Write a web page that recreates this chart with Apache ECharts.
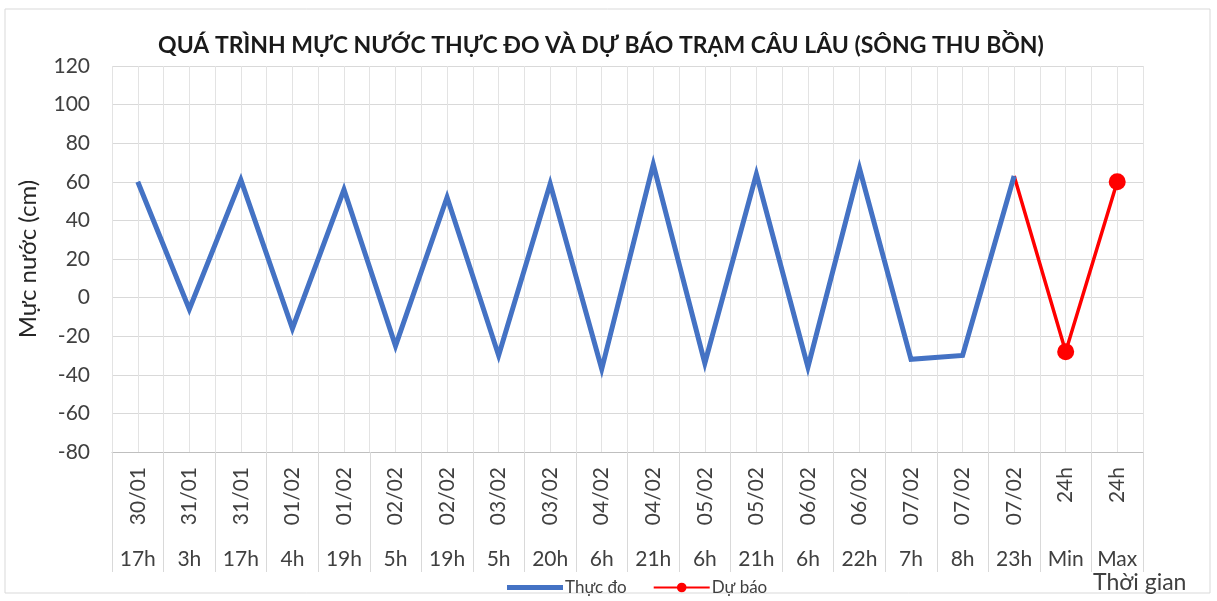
<!DOCTYPE html>
<html>
<head>
<meta charset="utf-8">
<script src="https://cdn.jsdelivr.net/npm/echarts@6/dist/echarts.min.js"></script>
<style>html,body{margin:0;padding:0;background:#fff;}#c{width:1217px;height:601px;}</style>
</head>
<body>
<div id="c"></div>
<script>
const dates = ['30/01','31/01','31/01','01/02','01/02','02/02','02/02','03/02','03/02','04/02','04/02','05/02','05/02','06/02','06/02','07/02','07/02','07/02','24h','24h'];
const hours = ['17h','3h','17h','4h','19h','5h','19h','5h','20h','6h','21h','6h','21h','6h','22h','7h','8h','23h','Min','Max'];
const observed = [60,-6,61,-16,56,-25,52,-30,59,-37,69,-34,64,-36,67,-32,-30,63,null,null];
const forecast = [null,null,null,null,null,null,null,null,null,null,null,null,null,null,null,null,null,63,-28,60];
const yMin = -80, yMax = 120, yStep = 20;

const FONT = 'Lato';
const TXT = '#404040';
const halfCats = [];
hours.forEach((h, i) => { halfCats.push(i + 'a', i + 'b'); });

const chart = echarts.init(document.getElementById('c'), null, {renderer: 'canvas'});
chart.setOption({
  animation: false,
  backgroundColor: '#fff',
  textStyle: {fontFamily: FONT},
  graphic: [
    {
      type: 'rect', shape: {x: 5, y: 9, width: 1205, height: 584},
      style: {fill: 'none', stroke: '#d9d9d9', lineWidth: 1}, silent: true, z: -1
    },
    {
      type: 'text', left: 1093, top: 571,
      style: {text: 'Thời gian', fontFamily: FONT, fontSize: 23, fill: TXT}
    }
  ],
  title: {
    text: 'QUÁ TRÌNH MỰC NƯỚC THỰC ĐO VÀ DỰ BÁO TRẠM CÂU LÂU (SÔNG THU BỒN)',
    left: 596, textAlign: 'center', top: 29,
    textStyle: {fontFamily: FONT, fontSize: 23, fontWeight: 'bold', color: '#1a1a1a'}
  },
  legend: {
    left: 502, top: 574, itemWidth: 56, itemHeight: 12, itemGap: 26,
    textStyle: {fontFamily: FONT, fontSize: 17, color: TXT, padding: [0, 0, 0, -3]},
    data: [
      {name: 'Thực đo', icon: 'path://M0,0H56V5H0Z'},
      {name: 'Dự báo'}
    ]
  },
  grid: {left: 112, right: 74, top: 66, bottom: 149, containLabel: false},
  xAxis: [
    {
      type: 'category', data: dates, position: 'bottom',
      axisLine: {show: true, onZero: false, lineStyle: {color: '#bfbfbf', width: 1}},
      axisTick: {show: true, length: 120, interval: 0, lineStyle: {color: '#d9d9d9'}},
      axisLabel: {interval: 0, rotate: 90, margin: 15, fontFamily: FONT, fontSize: 21, color: TXT},
      splitLine: {show: false}
    },
    {
      type: 'category', data: hours, position: 'bottom',
      axisLine: {show: false, onZero: false}, axisTick: {show: false},
      axisLabel: {interval: 0, margin: 97, fontFamily: FONT, fontSize: 21, color: TXT},
      splitLine: {show: false}
    },
    {
      type: 'category', data: halfCats, position: 'bottom',
      axisLine: {show: false, onZero: false}, axisTick: {show: false}, axisLabel: {show: false},
      splitLine: {show: true, interval: 0, lineStyle: {color: '#e3e3e3', width: 1}}
    }
  ],
  yAxis: {
    type: 'value', min: yMin, max: yMax, interval: yStep,
    axisLine: {show: false}, axisTick: {show: false},
    axisLabel: {fontFamily: FONT, fontSize: 21, color: TXT, margin: 22},
    splitLine: {show: true, lineStyle: {color: '#d9d9d9', width: 1}},
    name: 'Mực nước (cm)', nameLocation: 'middle', nameGap: 72, nameRotate: 90,
    nameTextStyle: {fontFamily: FONT, fontSize: 24, color: '#262626'}
  },
  series: [
    {
      name: 'Thực đo', type: 'line', xAxisIndex: 0, data: observed,
      symbol: 'none', connectNulls: false,
      lineStyle: {color: '#4472C4', width: 5, join: 'miter'},
      itemStyle: {color: '#4472C4'}, z: 3
    },
    {
      name: 'Dự báo', type: 'line', xAxisIndex: 0,
      data: forecast.map((v, i) => (v !== null && i < forecast.length - 2) ? {value: v, symbol: 'none'} : v),
      symbol: 'circle', symbolSize: 17, showAllSymbol: true,
      lineStyle: {color: '#FF0000', width: 3.5, join: 'miter'},
      itemStyle: {color: '#FF0000'}, z: 2
    }
  ]
});
</script>
</body>
</html>
